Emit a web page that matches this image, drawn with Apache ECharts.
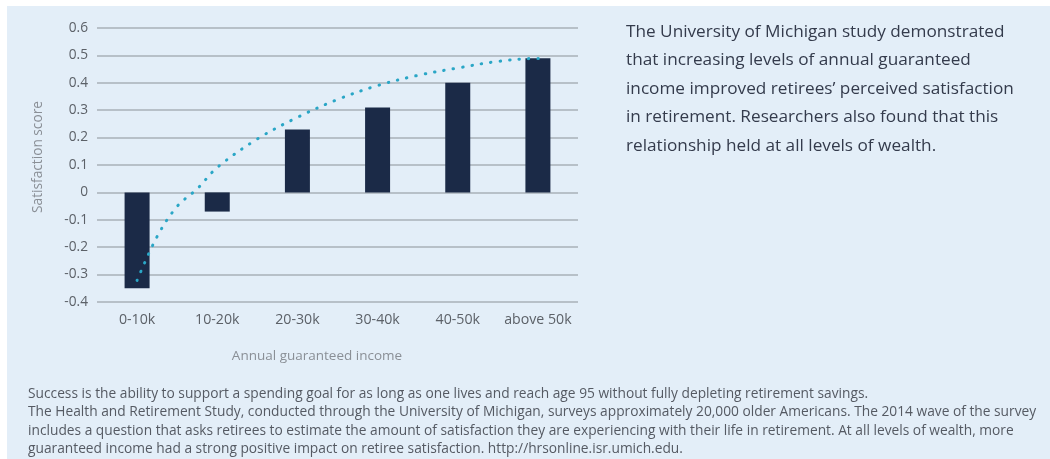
<!DOCTYPE html>
<html>
<head>
<meta charset="utf-8">
<script src="https://cdn.jsdelivr.net/npm/echarts@6/dist/echarts.min.js"></script>
<style>
  html, body { margin: 0; padding: 0; background: #ffffff; }
  #panel { position: absolute; left: 7px; top: 6px; width: 1043px; height: 453px; background: #e3eef8; }
  #chart { position: absolute; left: 0; top: 0; width: 1050px; height: 459px; }
</style>
</head>
<body>
<div id="panel"></div>
<div id="chart"></div>
<script>
// Income bands and mean satisfaction score per band
const categories = ['0-10k', '10-20k', '20-30k', '30-40k', '40-50k', 'above 50k'];
const scores = [-0.35, -0.07, 0.23, 0.31, 0.40, 0.49];

// Trend curve: position along the category band (0..6) and score
const trendPos = [0.5, 0.75, 1.0, 1.25, 1.5, 2.0, 2.5, 3.0, 3.5, 4.0, 4.5, 5.0, 5.5, 5.56];
const trendVal = [-0.321, -0.161, -0.051, 0.013, 0.091, 0.195, 0.274, 0.339, 0.39, 0.427, 0.454, 0.478, 0.489, 0.489];

const yTicks = [-0.4, -0.3, -0.2, -0.1, 0, 0.1, 0.2, 0.3, 0.4, 0.5, 0.6];

const sideText = [
  'The University of Michigan study demonstrated',
  'that increasing levels of annual guaranteed',
  'income improved retirees\u2019 perceived satisfaction',
  'in retirement. Researchers also found that this',
  'relationship held at all levels of wealth.'
];

const footText = [
  'Success is the ability to support a spending goal for as long as one lives and reach age 95 without fully depleting retirement savings.',
  'The Health and Retirement Study, conducted through the University of Michigan, surveys approximately 20,000 older Americans. The 2014 wave of the survey',
  'includes a question that asks retirees to estimate the amount of satisfaction they are experiencing with their life in retirement. At all levels of wealth, more',
  'guaranteed income had a strong positive impact on retiree satisfaction. http://hrsonline.isr.umich.edu.'
];

const FONT = '"Open Sans", "Noto Sans", sans-serif';
const chart = echarts.init(document.getElementById('chart'), null, { renderer: 'canvas' });

const graphics = [];
sideText.forEach((t, i) => {
  graphics.push({
    type: 'text', x: 626, y: 32 + i * 28.5,
    style: { text: t, fill: '#343b4c', font: '17.2px ' + FONT, verticalAlign: 'middle' }
  });
});
footText.forEach((t, i) => {
  graphics.push({
    type: 'text', x: 28, y: 394 + i * 18.5,
    style: { text: t, fill: '#555a63', font: '13.75px ' + FONT, verticalAlign: 'middle' }
  });
});
graphics.push({
  type: 'text', x: 317, y: 356,
  style: { text: 'Annual guaranteed income', fill: '#8a8f96', font: '13.5px ' + FONT, align: 'center', verticalAlign: 'middle' }
});

chart.setOption({
  animation: false,
  grid: { left: 97, right: 472, top: 28, bottom: 157, containLabel: false },
  xAxis: [
    {
      type: 'category', data: categories,
      axisLine: { show: false }, axisTick: { show: false },
      axisLabel: { color: '#5c6168', fontSize: 14.2, fontFamily: FONT, margin: 11, interval: 0 }
    },
    { type: 'value', min: 0, max: 6, show: false }
  ],
  yAxis: {
    type: 'value', min: -0.4, max: 0.6, interval: 0.1,
    name: 'Satisfaction score', nameLocation: 'middle', nameGap: 52, nameRotate: 90,
    nameTextStyle: { color: '#8a8f96', fontSize: 13.7, fontFamily: FONT, padding: [0, 0, 0, 16] },
    axisLine: { show: false }, axisTick: { show: false },
    axisLabel: {
      color: '#5c6168', fontSize: 13.7, fontFamily: FONT, margin: 9,
      formatter: v => {
        const r = Math.round(v * 10) / 10;
        return yTicks.includes(r) ? String(r) : '';
      }
    },
    splitLine: { lineStyle: { color: '#a8b0b8', width: 1.5 } }
  },
  series: [
    {
      type: 'bar', data: scores, barWidth: 25,
      itemStyle: { color: '#1b2a47' }
    },
    {
      type: 'line', xAxisIndex: 1, smooth: 0.35, symbol: 'none',
      data: trendPos.map((p, i) => [p, trendVal[i]]),
      lineStyle: { color: '#2aa6c6', width: 3, type: [0.5, 9], cap: 'round' },
      z: 5
    }
  ],
  graphic: graphics
});
</script>
</body>
</html>
